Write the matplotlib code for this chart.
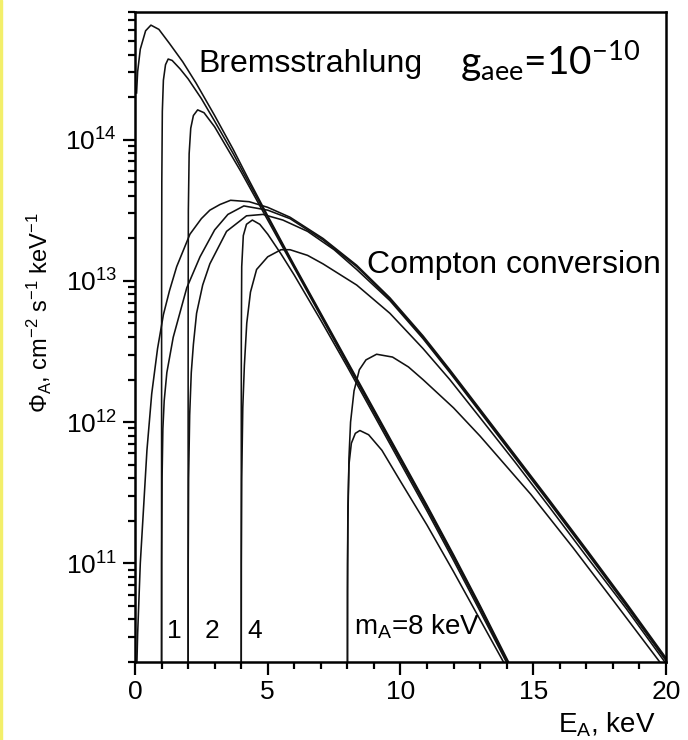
import numpy as np
import matplotlib
matplotlib.use('Agg')
import matplotlib.pyplot as plt
from matplotlib.ticker import LogLocator, MultipleLocator, NullFormatter
from matplotlib.patches import Rectangle

# Energia (keV) y log10 del flujo
brems_m0_E = [0.06, 0.1, 0.2, 0.4, 0.6, 0.9, 1.3, 1.8, 2.3, 3.0, 3.7, 4.3, 5.0, 6.0, 7.0, 8.0, 9.0, 10.0, 11.0, 12.0, 13.0, 14.1, 14.3]
brems_m0 = [14.33, 14.48, 14.64, 14.77, 14.81, 14.78, 14.68, 14.55, 14.40, 14.17, 13.93, 13.71, 13.46, 13.11, 12.77, 12.43, 12.09, 11.75, 11.41, 11.06, 10.70, 10.29, 10.22]

brems_m1_E = [1.0, 1.003, 1.01, 1.03, 1.07, 1.15, 1.25, 1.4, 1.7, 2.0, 2.5, 3.0, 3.7, 4.3, 5.0, 6.0, 7.0, 8.0, 9.0, 10.0, 11.0, 12.0, 13.0, 14.1, 14.3]
brems_m1 = [9.5, 13.0, 13.7, 14.2, 14.42, 14.53, 14.57, 14.56, 14.50, 14.43, 14.29, 14.13, 13.90, 13.69, 13.45, 13.10, 12.76, 12.42, 12.08, 11.74, 11.40, 11.05, 10.69, 10.28, 10.21]

brems_m2_E = [2.0, 2.003, 2.01, 2.04, 2.1, 2.2, 2.36, 2.6, 3.0, 3.5, 4.0, 4.5, 5.0, 6.0, 7.0, 8.0, 9.0, 10.0, 11.0, 12.0, 13.0, 14.1, 14.3]
brems_m2 = [9.5, 12.8, 13.5, 13.9, 14.08, 14.17, 14.21, 14.19, 14.09, 13.93, 13.77, 13.60, 13.43, 13.09, 12.75, 12.41, 12.07, 11.73, 11.39, 11.04, 10.68, 10.27, 10.20]

brems_m4_E = [4.0, 4.005, 4.02, 4.08, 4.2, 4.42, 4.7, 5.0, 5.5, 6.0, 7.0, 8.0, 9.0, 10.0, 11.0, 12.0, 13.0, 14.1, 14.3]
brems_m4 = [9.5, 12.6, 13.1, 13.32, 13.40, 13.43, 13.40, 13.33, 13.19, 13.04, 12.72, 12.39, 12.05, 11.71, 11.37, 11.02, 10.66, 10.26, 10.19]

brems_m8_E = [8.0, 8.005, 8.02, 8.06, 8.15, 8.3, 8.47, 8.8, 9.3, 10.0, 11.0, 12.0, 13.0, 14.0, 14.2]
brems_m8 = [9.5, 11.0, 11.4, 11.7, 11.85, 11.92, 11.94, 11.91, 11.80, 11.58, 11.27, 10.94, 10.60, 10.26, 10.19]

compton_m0_E = [0.06, 0.1, 0.2, 0.31, 0.45, 0.63, 0.85, 1.07, 1.3, 1.57, 2.07, 2.5, 2.82, 3.2, 3.6, 4.3, 5.0, 5.84, 7.08, 8.35, 9.6, 10.85, 11.86, 13.0, 14.3, 15.6, 17.0, 18.5, 20.0]
compton_m0 = [10.2, 10.5, 11.0, 11.35, 11.8, 12.2, 12.52, 12.76, 12.93, 13.1, 13.33, 13.44, 13.50, 13.54, 13.57, 13.56, 13.52, 13.45, 13.30, 13.11, 12.88, 12.61, 12.37, 12.09, 11.77, 11.45, 11.10, 10.72, 10.33]

compton_m1_E = [1.0, 1.005, 1.02, 1.05, 1.1, 1.2, 1.44, 1.95, 2.45, 3.0, 3.5, 4.1, 5.0, 5.84, 7.08, 8.35, 9.6, 10.85, 11.86, 13.0, 14.3, 15.6, 17.0, 18.5, 20.0]
compton_m1 = [9.5, 11.0, 11.6, 11.95, 12.15, 12.35, 12.6, 12.95, 13.17, 13.36, 13.47, 13.53, 13.50, 13.44, 13.29, 13.10, 12.87, 12.60, 12.36, 12.08, 11.76, 11.44, 11.09, 10.71, 10.32]

compton_m2_E = [2.0, 2.005, 2.02, 2.06, 2.12, 2.2, 2.32, 2.55, 2.82, 3.45, 4.2, 4.82, 5.57, 6.5, 7.5, 8.35, 9.6, 10.85, 11.86, 13.0, 14.3, 15.6, 17.0, 18.5, 20.0]
compton_m2 = [9.5, 11.0, 11.6, 12.05, 12.35, 12.55, 12.77, 12.97, 13.12, 13.35, 13.46, 13.47, 13.43, 13.35, 13.22, 13.08, 12.86, 12.59, 12.35, 12.07, 11.75, 11.43, 11.08, 10.70, 10.31]

compton_m4_E = [4.0, 4.005, 4.02, 4.06, 4.12, 4.21, 4.35, 4.58, 5.0, 5.5, 5.84, 6.5, 7.08, 8.35, 9.6, 10.85, 11.86, 13.0, 14.3, 15.6, 17.0, 18.5, 20.0]
compton_m4 = [9.5, 11.0, 11.6, 12.1, 12.4, 12.7, 12.92, 13.08, 13.17, 13.22, 13.22, 13.18, 13.12, 12.97, 12.77, 12.52, 12.30, 12.03, 11.72, 11.40, 11.05, 10.68, 10.29]

compton_m8_E = [8.0, 8.005, 8.02, 8.06, 8.12, 8.25, 8.45, 8.7, 9.1, 9.7, 10.3, 10.85, 12.0, 13.0, 14.9, 16.5, 18.0, 19.77, 20.0]
compton_m8 = [9.5, 10.8, 11.3, 11.75, 12.0, 12.22, 12.37, 12.44, 12.48, 12.46, 12.39, 12.30, 12.10, 11.90, 11.49, 11.11, 10.74, 10.30, 10.24]

curves = [
    (brems_m0_E, brems_m0), (brems_m1_E, brems_m1), (brems_m2_E, brems_m2),
    (brems_m4_E, brems_m4), (brems_m8_E, brems_m8),
    (compton_m0_E, compton_m0), (compton_m1_E, compton_m1), (compton_m2_E, compton_m2),
    (compton_m4_E, compton_m4), (compton_m8_E, compton_m8),
]

plt.rcParams['font.family'] = ['Liberation Sans', 'DejaVu Sans']
plt.rcParams['mathtext.default'] = 'regular'

fig = plt.figure(figsize=(6.88, 7.40), dpi=100)
ax = fig.add_axes([0.1962, 0.1054, 0.7718, 0.8784])

for E, logphi in curves:
    ax.plot(E, 10 ** np.array(logphi), color='#111111', lw=1.15)

ax.set_yscale('log')
ax.set_xlim(0, 20)
ax.set_ylim(2e10, 8e14)

ax.xaxis.set_major_locator(MultipleLocator(5))
ax.xaxis.set_minor_locator(MultipleLocator(1))
ax.yaxis.set_major_locator(LogLocator(base=10, numticks=10))
ax.yaxis.set_minor_locator(LogLocator(base=10, subs=np.arange(2, 10), numticks=20))
ax.yaxis.set_minor_formatter(NullFormatter())

ax.tick_params(which='both', direction='out', top=False, right=False, width=1.6, labelsize=19)
ax.tick_params(which='major', length=9)
ax.tick_params(which='minor', length=5)
ax.tick_params(axis='x', which='major', pad=4)
ax.tick_params(axis='y', which='major', pad=4)
for s in ax.spines.values():
    s.set_linewidth(1.8)

ax.set_ylabel('Φ$_A$, cm$^{-2}$ s$^{-1}$ keV$^{-1}$', fontsize=17)
ax.yaxis.set_label_coords(-0.152, 0.537)
ax.set_xlabel('E$_A$, keV', fontsize=20)
ax.xaxis.set_label_coords(0.889, -0.075)

ax.text(2.4, 10 ** 14.475, 'Bremsstrahlung', fontsize=23, va='baseline', ha='left')
ax.text(8.75, 10 ** 13.057, 'Compton conversion', fontsize=23, va='baseline', ha='left')
ax.text(1.47, 10 ** 10.468, '1', fontsize=19, va='baseline', ha='center')
ax.text(2.9, 10 ** 10.468, '2', fontsize=19, va='baseline', ha='center')
ax.text(4.52, 10 ** 10.468, '4', fontsize=19, va='baseline', ha='center')
ax.text(8.25, 10 ** 10.496, 'm$_A$=8 keV', fontsize=20, va='baseline', ha='left')
ax.text(0.612, 0.903, 'g$_{aee}$=10$^{-10}$', transform=ax.transAxes,
        fontsize=28, family='Lato', va='baseline', ha='left')

# borde amarillo a la izquierda
fig.patches.append(Rectangle((0, 0), 0.003, 1, transform=fig.transFigure, color='#f3ef6a', zorder=0))

fig.savefig('out.png', dpi=100)
